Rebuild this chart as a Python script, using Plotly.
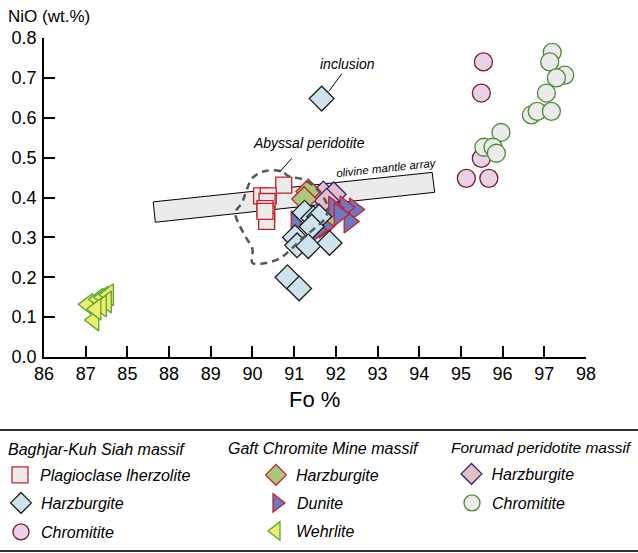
import plotly.graph_objects as go

# ---------------- data ----------------
x_tick_labels = ["86", "87", "85", "88", "89", "90", "91", "92", "93", "94", "95", "96", "97", "98"]
x_tick_start = 85
y_ticks = [0.0, 0.1, 0.2, 0.3, 0.4, 0.5, 0.6, 0.7, 0.8]

# Baghjar-Kuh Siah massif
plag_fo = [90.75, 90.22, 90.38, 90.35, 90.30, 90.34, 90.34, 90.30]
plag_nio = [0.431, 0.404, 0.404, 0.390, 0.372, 0.357, 0.340, 0.365]
bh_harz_fo = [91.66, 90.84, 91.12, 91.25, 91.46, 91.60, 91.42, 91.02, 91.07, 91.34, 91.85]
bh_harz_nio = [0.648, 0.200, 0.172, 0.362, 0.348, 0.352, 0.327, 0.300, 0.280, 0.278, 0.286]
bh_chrom_fo = [95.54, 95.49, 95.49, 95.13, 95.67]
bh_chrom_nio = [0.740, 0.662, 0.498, 0.448, 0.448]

# Gaft Chromite Mine massif
gf_harz_fo = [91.34, 91.24, 91.86]
gf_harz_nio = [0.415, 0.396, 0.348]
gf_dun_fo = [92.45, 92.22, 91.95, 92.32, 91.05, 91.72, 92.08, 91.55]
gf_dun_nio = [0.370, 0.375, 0.374, 0.340, 0.338, 0.327, 0.358, 0.318]
gf_weh_fo = [86.05, 86.20, 86.30, 86.42, 86.55, 86.50, 86.38, 86.25]
gf_weh_nio = [0.132, 0.093, 0.145, 0.150, 0.156, 0.138, 0.128, 0.120]

# Forumad peridotite massif
fr_harz_fo = [91.70, 91.95, 91.78]
fr_harz_nio = [0.410, 0.408, 0.392]
fr_chrom_fo = [97.19, 97.13, 97.49, 97.29, 97.05, 96.69, 96.83, 97.17, 95.96, 95.55, 95.77, 95.85]
fr_chrom_nio = [0.764, 0.740, 0.707, 0.700, 0.662, 0.607, 0.616, 0.616, 0.563, 0.526, 0.526, 0.511]

# Reference fields
array_fo = [87.62, 87.67, 94.37, 94.31, 87.62]
array_nio = [0.389, 0.338, 0.413, 0.463, 0.389]
abyssal_fo = [90.88, 90.68, 90.29, 90.00, 89.85, 89.75, 89.59, 89.70, 89.85, 90.00, 90.00,
              90.34, 90.68, 90.92, 91.17, 91.46, 91.75, 91.80, 91.56, 91.22, 90.88]
abyssal_nio = [0.453, 0.466, 0.466, 0.449, 0.416, 0.387, 0.362, 0.328, 0.299, 0.270, 0.236,
               0.236, 0.249, 0.270, 0.295, 0.320, 0.349, 0.378, 0.420, 0.445, 0.453]

# ---------------- layout helpers ----------------
W, H = 638, 553
ML, MR, MT, MB = 44, 52, 38, 196
PW = W - ML - MR
PH = H - MT - MB
FONT = "Liberation Sans, Arial, Helvetica, sans-serif"


def px(x):
    return (x - ML) / PW


def py(y):
    return (H - MB - y) / PH


fig = go.Figure()

# olivine mantle array band
fig.add_trace(go.Scatter(x=array_fo, y=array_nio, mode="lines", fill="toself",
                         fillcolor="#ebebeb", line=dict(color="black", width=1),
                         showlegend=False, hoverinfo="skip"))

leg_common = dict(xref="container", yref="container", xanchor="left", yanchor="top",
                  bgcolor="rgba(0,0,0,0)", borderwidth=0, itemsizing="trace",
                  font=dict(family=FONT, size=16, color="black", style="italic"),
                  tracegroupgap=0)
legends = {}


def add_pts(xs, ys, name, legend, lx, ly, symbol, size, fill, edge):
    fig.add_trace(go.Scatter(
        x=xs, y=ys, mode="markers", name=name, legend=legend,
        marker=dict(symbol=symbol, size=size, color=fill,
                    line=dict(color=edge, width=1.3)),
        cliponaxis=False))
    # legend item: (lx, ly) = pixel position of the symbol centre
    legends[legend] = dict(x=(lx - 20) / W, y=1 - (ly - 17) / H, **leg_common)


RED = "#c8202a"
add_pts(plag_fo, plag_nio, "Plagioclase lherzolite", "legend", 20, 475,
        "square", 16, "#ebebeb", RED)
add_pts(fr_harz_fo, fr_harz_nio, "Harzburgite", "legend7", 471.5, 474,
        "diamond", 19, "#e4bfc7", "#2e2175")
add_pts(gf_harz_fo, gf_harz_nio, "Harzburgite", "legend4", 276, 475,
        "diamond", 19, "#a9c97a", RED)
add_pts(gf_dun_fo, gf_dun_nio, "Dunite", "legend5", 277, 503,
        "triangle-right", 20, "#6d78bf", RED)
add_pts(gf_weh_fo, gf_weh_nio, "Wehrlite", "legend6", 276, 531,
        "triangle-left", 19, "#eeee6e", "#5aa532")
add_pts(bh_harz_fo, bh_harz_nio, "Harzburgite", "legend2", 21, 503,
        "diamond", 19, "#cde3ee", "#1a1a1a")
add_pts(bh_chrom_fo, bh_chrom_nio, "Chromitite", "legend3", 21, 532,
        "circle", 18, "#e9d2e7", "#7b1c22")
add_pts(fr_chrom_fo, fr_chrom_nio, "Chromitite", "legend8", 472, 503,
        "circle", 18, "#ebebeb", "#4b8b34")

# abyssal peridotite field (dashed)
fig.add_trace(go.Scatter(x=abyssal_fo, y=abyssal_nio, mode="lines",
                         line=dict(color="#555555", width=2.5, dash="7px,5px", shape="spline"),
                         showlegend=False, hoverinfo="skip"))

# leader lines
leaders = [((92.14, 0.710), (91.83, 0.666)), ((90.94, 0.498), (90.66, 0.465))]
for (x0, y0), (x1, y1) in leaders:
    fig.add_shape(type="line", x0=x0, y0=y0, x1=x1, y1=y1, xref="x", yref="y",
                  line=dict(color="black", width=1))

ann_font = dict(family=FONT, color="black", style="italic")
fig.add_annotation(x=92.29, y=0.735, text="inclusion", showarrow=False,
                   font=dict(size=14, **ann_font))
fig.add_annotation(x=91.36, y=0.537, text="Abyssal peridotite", showarrow=False,
                   font=dict(size=14, **ann_font))
fig.add_annotation(x=93.21, y=0.473, text="olivine mantle array", showarrow=False,
                   textangle=-6, font=dict(size=11.5, **ann_font))

# axis titles
fig.add_annotation(x=px(6), y=py(17), xref="paper", yref="paper",
                   xanchor="left", yanchor="middle",
                   text="NiO (wt.%)", showarrow=False,
                   font=dict(family=FONT, size=17, color="black"))
fig.add_annotation(x=px(314.5), y=py(399), xref="paper", yref="paper",
                   xanchor="center", yanchor="middle",
                   text="Fo %", showarrow=False,
                   font=dict(family=FONT, size=22, color="black"))

# legend frame lines
for yl in (430, 551):
    fig.add_shape(type="line", xref="paper", yref="paper", x0=px(0), x1=px(W),
                  y0=py(yl), y1=py(yl), line=dict(color="#333333", width=2))

# legend group titles
for tx, ty, t, fs in [(6, 449, "Baghjar-Kuh Siah massif", 16),
                      (226, 448, "Gaft Chromite Mine massif", 16),
                      (449, 447, "Forumad peridotite massif", 15.5)]:
    fig.add_annotation(x=px(tx), y=py(ty), xref="paper", yref="paper",
                       xanchor="left", yanchor="middle",
                       text=t, showarrow=False,
                       font=dict(size=fs, **ann_font))

fig.update_layout(
    width=W, height=H,
    margin=dict(l=ML, r=MR, t=MT, b=MB, autoexpand=False),
    paper_bgcolor="white", plot_bgcolor="white",
    font=dict(family=FONT, color="black"),
    xaxis=dict(range=[x_tick_start, x_tick_start + len(x_tick_labels) - 1],
               tickvals=[x_tick_start + i for i in range(len(x_tick_labels))],
               ticktext=x_tick_labels, ticks="inside", ticklen=11, tickwidth=1.5,
               tickcolor="black", showline=True, linecolor="black", linewidth=1.5,
               showgrid=False, zeroline=False, tickfont=dict(size=18, family=FONT),
               ticklabelstandoff=0),
    yaxis=dict(range=[0, 0.8], tickvals=y_ticks, tickformat=".1f",
               ticks="inside", ticklen=11, tickwidth=1.5, tickcolor="black",
               showline=True, linecolor="black", linewidth=1.5,
               showgrid=False, zeroline=False, tickfont=dict(size=18, family=FONT),
               ticklabelstandoff=2),
    **legends,
)

fig.write_html("out.html")
